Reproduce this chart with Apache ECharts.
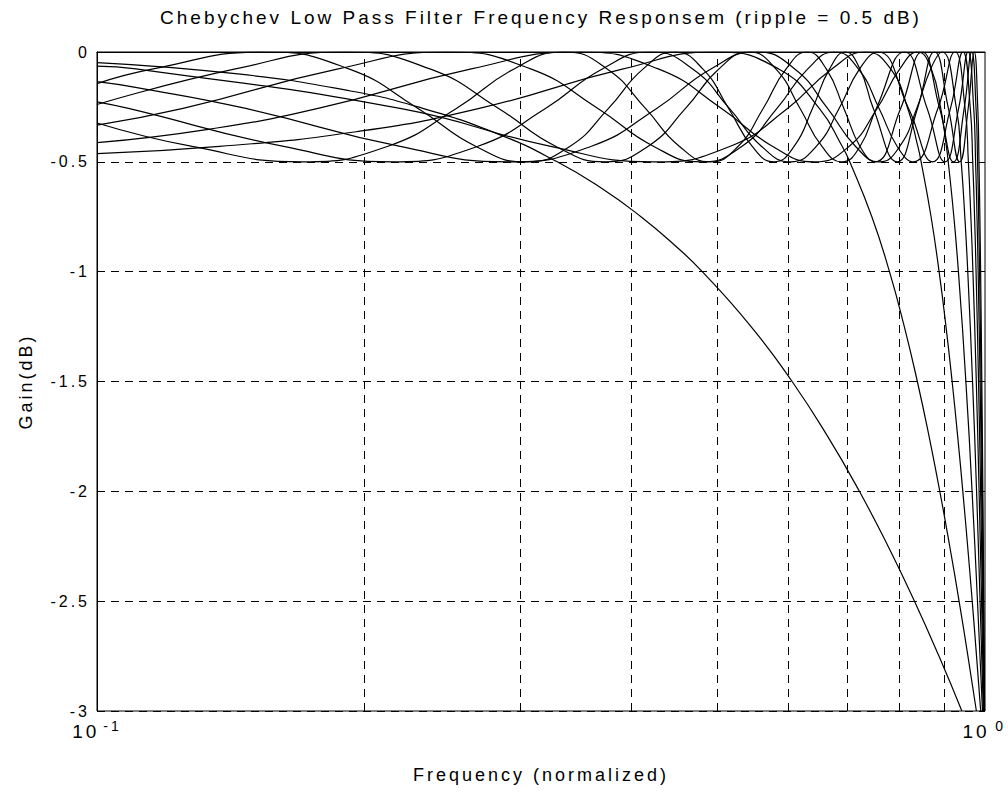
<!DOCTYPE html>
<html>
<head>
<meta charset="utf-8">
<script src="https://cdn.jsdelivr.net/npm/echarts@6/dist/echarts.min.js"></script>
<style>
  html, body { margin: 0; padding: 0; background: #fff; }
  #chart { width: 1008px; height: 793px; }
  #chart text { letter-spacing: 3px; }
</style>
</head>
<body>
<div id="chart"></div>
<script>
// Gain (dB) versus normalized frequency, one array per filter order.
const order1 = [[0.1,-0.048],[0.1441,-0.1],[0.1915,-0.175],[0.2298,-0.25],[0.2835,-0.375],[0.3298,-0.5],[0.3714,-0.625],[0.4098,-0.75],[0.446,-0.875],[0.4804,-1],[0.5452,-1.25],[0.6064,-1.5],[0.665,-1.75],[0.722,-2],[0.7778,-2.25],[0.8329,-2.5],[0.8874,-2.75],[0.9418,-3]];
const order2 = [[0.1,-0.463],[0.1374,-0.43],[0.1958,-0.363],[0.2695,-0.257],[0.3913,-0.077],[0.498,0],[0.5856,-0.077],[0.6507,-0.257],[0.6907,-0.43],[0.7042,-0.5],[0.7457,-0.75],[0.7806,-1],[0.8112,-1.25],[0.8391,-1.5],[0.865,-1.75],[0.8894,-2],[0.9126,-2.25],[0.935,-2.5],[0.9567,-2.75],[0.9779,-3]];
const order3 = [[0.1,-0.064],[0.1106,-0.077],[0.2194,-0.257],[0.3243,-0.43],[0.4238,-0.5],[0.5159,-0.43],[0.5992,-0.257],[0.6723,-0.077],[0.734,0],[0.7829,-0.077],[0.8185,-0.257],[0.8402,-0.43],[0.8474,-0.5],[0.8695,-0.75],[0.8878,-1],[0.9038,-1.25],[0.9183,-1.5],[0.9316,-1.75],[0.9441,-2],[0.956,-2.25],[0.9674,-2.5],[0.9783,-2.75],[0.9889,-3]];
const order4 = [[0.1,-0.413],[0.1334,-0.352],[0.1774,-0.257],[0.2639,-0.077],[0.3479,0],[0.4285,-0.077],[0.505,-0.257],[0.5768,-0.43],[0.6429,-0.5],[0.7028,-0.43],[0.7559,-0.257],[0.8018,-0.077],[0.8399,0],[0.8699,-0.077],[0.8916,-0.257],[0.9047,-0.43],[0.9091,-0.5],[0.9224,-0.75],[0.9334,-1],[0.9516,-1.5],[0.967,-2],[0.9807,-2.5],[0.9935,-3]];
const order5 = [[0.1,-0.135],[0.1105,-0.161],[0.1471,-0.257],[0.2195,-0.43],[0.2905,-0.5],[0.3598,-0.43],[0.4268,-0.257],[0.4913,-0.077],[0.5526,0],[0.6106,-0.077],[0.6648,-0.257],[0.715,-0.43],[0.7607,-0.5],[0.8016,-0.43],[0.8378,-0.257],[0.8686,-0.077],[0.8941,0],[0.9286,-0.257],[0.9402,-0.5],[0.949,-0.75],[0.9563,-1],[0.9682,-1.5],[0.9784,-2],[0.9873,-2.5],[0.9957,-3]];
const order6 = [[0.1,-0.333],[0.125,-0.257],[0.1869,-0.077],[0.2479,0],[0.3079,-0.077],[0.3665,-0.257],[0.4237,-0.43],[0.4789,-0.5],[0.5322,-0.43],[0.5831,-0.257],[0.6316,-0.077],[0.6773,0],[0.7201,-0.077],[0.7599,-0.257],[0.7964,-0.43],[0.8295,-0.5],[0.885,-0.257],[0.9252,0],[0.9497,-0.257],[0.9578,-0.5],[0.964,-0.75],[0.9692,-1],[0.9777,-1.5],[0.9848,-2],[0.9911,-2.5],[0.997,-3]];
const order7 = [[0.1,-0.227],[0.1085,-0.257],[0.1623,-0.43],[0.2155,-0.5],[0.2681,-0.43],[0.3199,-0.257],[0.3707,-0.077],[0.4203,0],[0.4686,-0.077],[0.5154,-0.257],[0.5604,-0.43],[0.604,-0.5],[0.6456,-0.43],[0.685,-0.257],[0.7224,-0.077],[0.7574,0],[0.8202,-0.257],[0.8728,-0.5],[0.9143,-0.257],[0.9445,0],[0.9626,-0.257],[0.9687,-0.5],[0.9733,-0.75],[0.9771,-1],[0.9834,-1.5],[0.9887,-2],[0.9935,-2.5],[0.9978,-3]];
const order8 = [[0.1,-0.239],[0.1432,-0.077],[0.1904,0],[0.2371,-0.077],[0.2833,-0.257],[0.3288,-0.43],[0.3735,-0.5],[0.4172,-0.43],[0.46,-0.257],[0.5017,-0.077],[0.5422,0],[0.5813,-0.077],[0.6191,-0.257],[0.6553,-0.43],[0.6901,-0.5],[0.7231,-0.43],[0.7544,-0.257],[0.8115,0],[0.8607,-0.257],[0.9016,-0.5],[0.9339,-0.257],[0.9571,0],[0.9712,-0.257],[0.9759,-0.5],[0.9795,-0.75],[0.9824,-1],[0.9873,-1.5],[0.9914,-2],[0.995,-2.5],[0.9983,-3]];
const order9 = [[0.1,-0.323],[0.128,-0.43],[0.1704,-0.5],[0.2123,-0.43],[0.2539,-0.257],[0.2949,-0.077],[0.3355,0],[0.3754,-0.077],[0.4146,-0.257],[0.4529,-0.43],[0.4905,-0.5],[0.527,-0.43],[0.5626,-0.257],[0.5971,-0.077],[0.6305,0],[0.6626,-0.077],[0.6936,-0.257],[0.7232,-0.43],[0.7514,-0.5],[0.8035,-0.257],[0.8495,0],[0.889,-0.257],[0.9217,-0.5],[0.9475,-0.257],[0.966,0],[0.9771,-0.257],[0.9809,-0.5],[0.9837,-0.75],[0.986,-1],[0.9899,-1.5],[0.9931,-2],[0.996,-2.5],[0.9986,-3]];
const order10 = [[0.1,-0.144],[0.1157,-0.077],[0.154,0],[0.1921,-0.077],[0.2299,-0.257],[0.2672,-0.43],[0.3042,-0.5],[0.3407,-0.43],[0.3767,-0.257],[0.4122,-0.077],[0.4469,0],[0.481,-0.077],[0.5144,-0.257],[0.5469,-0.43],[0.5787,-0.5],[0.6095,-0.43],[0.6393,-0.257],[0.6683,-0.077],[0.6962,0],[0.7229,-0.077],[0.7486,-0.257],[0.7965,-0.5],[0.8394,-0.257],[0.8772,0],[0.9095,-0.257],[0.9363,-0.5],[0.9573,-0.257],[0.9724,0],[0.9815,-0.257],[0.9845,-0.5],[0.9868,-0.75],[0.9887,-1],[0.9918,-1.5],[0.9945,-2],[0.9968,-2.5],[0.9989,-3]];

const orders = [order1, order2, order3, order4, order5, order6, order7, order8, order9, order10];

// Minor decade grid lines on the frequency axis
const freqGrid = [0.2, 0.3, 0.4, 0.5, 0.6, 0.7, 0.8, 0.9];

const titleText = 'Chebychev Low Pass Filter Frequency Responsem (ripple = 0.5 dB)';
const xName = 'Frequency (normalized)';
const yName = 'Gain(dB)';

const FONT = '"Liberation Sans", Arial, Helvetica, sans-serif';
const DASH = [8, 6];

const chart = echarts.init(document.getElementById('chart'), null, { renderer: 'svg' });

const series = orders.map((d, i) => ({
  name: 'n = ' + (i + 1),
  type: 'line',
  data: d,
  smooth: true,
  symbol: 'none',
  showSymbol: false,
  silent: true,
  clip: true,
  lineStyle: { color: '#000', width: 1.2 },
  z: 3
}));

series[0].markLine = {
  silent: true,
  symbol: ['none', 'none'],
  label: { show: false },
  lineStyle: { color: '#000', width: 1, type: DASH },
  emphasis: { disabled: true },
  data: freqGrid.map(v => ({ xAxis: v }))
};

chart.setOption({
  animation: false,
  backgroundColor: '#fff',
  graphic: [{
    type: 'text',
    x: 541,
    y: 8,
    style: {
      text: titleText,
      font: '19px ' + FONT,
      fill: '#000',
      textAlign: 'center',
      textVerticalAlign: 'top'
    }
  }],
  grid: {
    left: 97, right: 23, top: 52, bottom: 82,
    show: true, borderColor: '#000', borderWidth: 1,
    outerBoundsMode: 'none'
  },
  xAxis: {
    type: 'log',
    logBase: 10,
    min: 0.1,
    max: 1,
    name: xName,
    nameLocation: 'middle',
    nameGap: 55,
    nameTextStyle: { fontSize: 18, fontFamily: FONT, color: '#000' },
    axisLine: { show: true, lineStyle: { color: '#000', width: 1 } },
    axisTick: { show: false },
    splitLine: { show: false },
    minorTick: { show: false },
    minorSplitLine: { show: false },
    axisLabel: {
      margin: 8,
      color: '#000',
      formatter: v => '{b|10}{s|' + Math.round(Math.log10(v)) + '}',
      rich: {
        b: { fontSize: 19, fontFamily: FONT, color: '#000', lineHeight: 22, padding: [10, 0, 0, 0], verticalAlign: 'bottom' },
        s: { fontSize: 14, fontFamily: FONT, color: '#000', lineHeight: 16, padding: [0, 0, 0, 10], verticalAlign: 'top' }
      }
    }
  },
  yAxis: {
    type: 'value',
    min: -3,
    max: 0,
    interval: 0.5,
    name: yName,
    nameLocation: 'middle',
    nameGap: 62,
    nameTextStyle: { fontSize: 18, fontFamily: FONT, color: '#000' },
    axisLine: { show: true, lineStyle: { color: '#000', width: 1 } },
    axisTick: { show: true, inside: true, length: 5, lineStyle: { color: '#000' } },
    splitLine: { show: true, lineStyle: { color: '#000', width: 1, type: DASH } },
    axisLabel: { margin: 7, fontSize: 16, fontFamily: FONT, color: '#000' }
  },
  series: series
});
</script>
</body>
</html>
